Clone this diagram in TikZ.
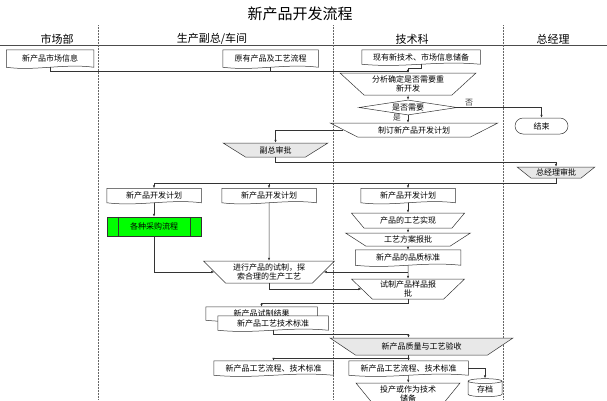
\documentclass[tikz,border=0pt]{standalone}
\usepackage{fontspec}
\setmainfont{Noto Sans CJK SC}
\usepackage{tikz}
\usetikzlibrary{shapes.geometric, calc, arrows.meta}
\definecolor{boxgray}{RGB}{232,232,232}
\definecolor{buygreen}{RGB}{0,255,0}
\newcommand{\docedge}[1]{\draw[black!80] (#1.north west) -- (#1.north east) -- (#1.south east) .. controls ($(#1.south)+(15,-4)$) and ($(#1.south)+(-15,4)$) .. (#1.south west) -- cycle;}

\begin{document}
\begin{tikzpicture}[x=1pt, y=-1pt, line width=0.5pt,
  every node/.style={font=\fontsize{8}{9}\selectfont, inner sep=0pt, align=center},
  doc/.style={rectangle, fill=white, minimum height=14pt},
  trap/.style={trapezium, draw=black!80, shape border rotate=180, trapezium stretches=true, trapezium left angle=#1, trapezium right angle=#1},
  grey/.style={fill=boxgray},
  lane/.style={font=\fontsize{11}{12}\selectfont},
  arr/.style={-{Latex[length=3pt,width=2.4pt]}, black!80}]
 \useasboundingbox (0,0) rectangle (607,400);
 \node[font=\fontsize{15}{16}\selectfont] (title) at (300,14) {新产品开发流程};
 \node[lane] (hmkt) at (57,39) {市场部};
 \node[lane] (hvp) at (212,39) {生产副总/车间};
 \node[lane] (htech) at (412,39) {技术科};
 \node[lane] (hgm) at (553,39) {总经理};
 \draw[black!70] (0,45) -- (607,45);
 \foreach \x in {98,333,503} {\draw[densely dotted, black!60] (\x,25) -- (\x,400);}

 \node[doc, minimum width=87pt, minimum height=17pt] (mkt) at (50,58.5) {新产品市场信息};
 \node[doc, minimum width=95pt, minimum height=17pt] (old) at (270.5,58.5) {原有产品及工艺流程};
 \node[doc, minimum width=118pt] (tech) at (421,57) {现有新技术、市场信息储备};
 \node[trap=40, minimum width=136pt, minimum height=22pt] (ana) at (408,84) {分析确定是否需要重\\新开发};
 \node[diamond, draw=black!80, aspect=6, minimum width=98pt, minimum height=15pt] (need) at (408,107.5) {是否需要};
 \node[draw=black!80, rounded corners=8pt, minimum width=53pt, minimum height=16pt] (stop) at (541.5,126) {结束};
 \node[trap=23, minimum width=168pt, minimum height=14pt] (mkplan) at (414,130) {制订新产品开发计划};
 \node[trap=32, grey, minimum width=105pt, minimum height=14pt] (vpok) at (275.5,150) {副总审批};
 \node[trap=34, grey, minimum width=78pt, minimum height=11pt] (gmok) at (556,172.5) {总经理审批};
 \node[doc, minimum width=94pt] (planL) at (154,195.5) {新产品开发计划};
 \node[doc, minimum width=94pt] (planM) at (269,195.5) {新产品开发计划};
 \node[doc, minimum width=94pt] (planR) at (408,195.5) {新产品开发计划};
 \node[draw=black!80, fill=buygreen, minimum width=94pt, minimum height=19pt] (buy) at (154,226.5) {各种采购流程};
 \draw[black!80] ([xshift=11pt]buy.north west) -- ([xshift=11pt]buy.south west);
 \draw[black!80] ([xshift=-11pt]buy.north east) -- ([xshift=-11pt]buy.south east);
 \node[trap=43, minimum width=114pt, minimum height=15pt] (craft) at (408,220.5) {产品的工艺实现};
 \node[trap=33, minimum width=125pt, minimum height=13pt] (apply) at (408,239.5) {工艺方案报批};
 \node[doc, minimum width=105pt, minimum height=15pt] (qual) at (408,257.5) {新产品的品质标准};
 \node[trap=42, minimum width=131pt, minimum height=22pt] (trial) at (269,272) {进行产品的试制，探\\索合理的生产工艺};
 \node[trap=45, minimum width=114pt, minimum height=20pt] (sample) at (408,289) {试制产品样品报\\批};
 \node[doc, minimum width=111pt, minimum height=13pt] (res) at (261.5,313.5) {新产品试制结果};
 \docedge{res}
 \node[doc, minimum width=110pt] (std) at (273,323) {新产品工艺技术标准};
 \docedge{std}
 \node[trap=26, grey, minimum width=183pt, minimum height=17pt] (check) at (421.5,346.5) {新产品质量与工艺验收};
 \node[doc, minimum width=119pt] (outL) at (273.5,368) {新产品工艺流程、技术标准};
 \node[doc, minimum width=119pt] (outR) at (408.5,368) {新产品工艺流程、技术标准};
 \node[trap=48, minimum width=105pt, minimum height=22pt] (run) at (408,394) {投产或作为技术\\储备};
 \node[cylinder, draw=black!80, shape border rotate=90, aspect=0.3, minimum width=34pt, minimum height=18pt] (arch) at (485,389) {存档};
 \foreach \n in {mkt,old,tech,planL,planM,planR,qual,outL,outR} {\docedge{\n}}

 \draw[arr] (mkt.south) -- ++(0,4) -| (ana.north);
 \draw[black!80] (old.south) -- ++(0,4);
 \draw[arr] (tech.south) -- ++(0,4) -| (ana.north);
 \draw[arr] (ana) -- (need);
 \draw[arr] (need.east) -| (stop.north) node[pos=0.07, above=1pt] {否};
 \draw[arr] (need.south) -- (need.south |- mkplan.north) node[pos=0.3, left=7pt] {是};
 \draw[arr] (mkplan.west) -| (vpok.north);
 \draw[arr] (vpok.south) -- ++(0,5) -| (gmok.north);
 \draw[arr] (gmok.south) -- ++(0,5) -| (planL.north);
 \draw[arr] (gmok.south) -- ++(0,5) -| (planM.north);
 \draw[arr] (gmok.south) -- ++(0,5) -| (planR.north);
 \draw[arr] (planL) -- (buy);
 \draw[arr] (buy.south) |- (trial.west);
 \draw[arr] (planM) -- (trial);
 \draw[arr] (planR) -- (craft);
 \draw[arr] (craft) -- (apply);
 \draw[arr] (apply) -- (qual);
 \draw[arr] (qual) -- (sample);
 \draw[arr] (qual.south |- trial.east) -- (trial.east);
 \draw[arr] (trial.south) |- (sample.west);
 \draw[arr] (sample.south) -- ++(0,4) -| (res.north);
 \draw[arr] (std.south) -- ++(0,4) -| (outR.north |- check.north);
 \draw[arr] (outR.north |- check.south) -- ++(0,3) -| (outL.north);
 \draw[arr] (outR.north |- check.south) -- (outR.north);
 \draw[arr] (outR) -- (run);
 \draw[arr] (outR.east) -| (arch.north);
\end{tikzpicture}
\end{document}
